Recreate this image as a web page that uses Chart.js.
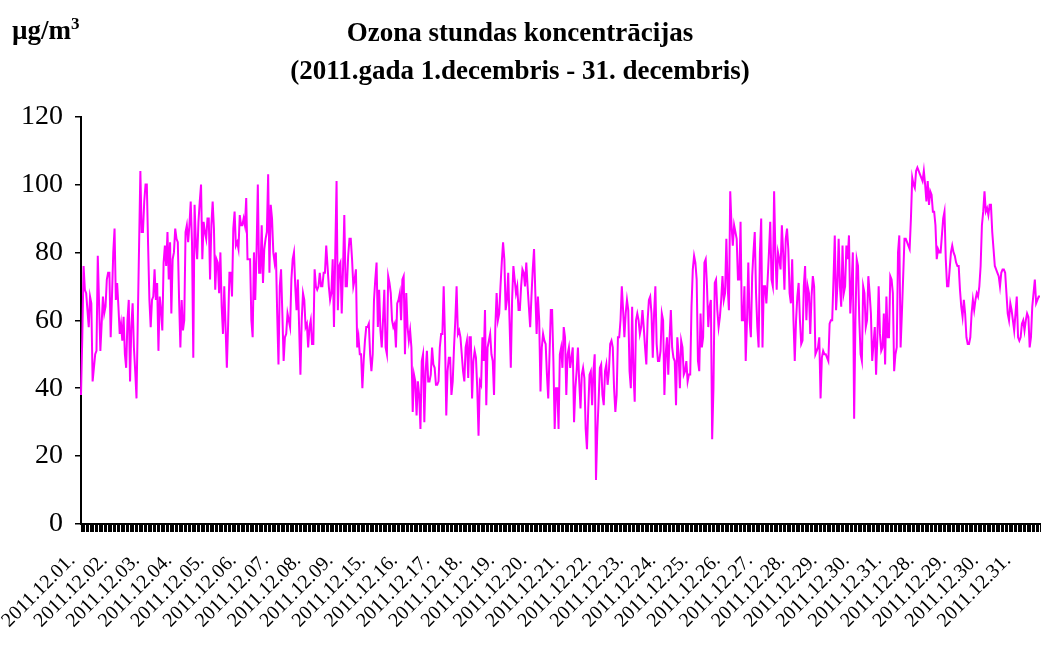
<!DOCTYPE html>
<html>
<head>
<meta charset="utf-8">
<script src="https://cdn.jsdelivr.net/npm/chart.js@4"></script>
<style>
  body { margin: 0; background: #fff; }
  #wrap { position: relative; width: 1042px; height: 655px; }
  #unit {
    position: absolute; left: 12px; top: 14px;
    font: bold 27px 'Times New Roman', 'Liberation Serif', serif; color: #000;
  }
  #unit sup { font-size: 17px; }
</style>
</head>
<body>
<div id="wrap">
  <canvas id="chart"></canvas>
  <div id="unit">µg/m<sup>3</sup></div>
</div>
<script>
// tick labels as printed under the axis (one every 25 hours)
const dayLabels = [
  '2011.12.01.', '2011.12.02.', '2011.12.03.', '2011.12.04.', '2011.12.05.',
  '2011.12.06.', '2011.12.07.', '2011.12.08.', '2011.12.09.', '2011.12.15.',
  '2011.12.16.', '2011.12.17.', '2011.12.18.', '2011.12.19.', '2011.12.20.',
  '2011.12.21.', '2011.12.22.', '2011.12.23.', '2011.12.24.', '2011.12.25.',
  '2011.12.26.', '2011.12.27.', '2011.12.28.', '2011.12.29.', '2011.12.30.',
  '2011.12.31.', '2011.12.28.', '2011.12.29.', '2011.12.30.', '2011.12.31.'
];
const labelEvery = 25;

// hourly ozone, µg/m3 (24 values per row)
const ozone = [
  38,55,76,69,68,63,58,67,65,42,46,50,51,79,65,51,59,67,62,64,72,74,74,55,
  67,80,87,66,71,64,56,59,54,61,50,46,60,66,42,58,65,52,45,37,60,82,104,86,
  86,95,100,100,82,66,58,66,67,75,66,71,51,67,63,57,77,82,76,86,72,83,62,78,
  80,87,84,83,66,52,66,57,60,86,88,83,88,95,83,49,94,83,78,89,95,100,78,89,
  86,84,90,90,72,88,95,87,69,78,77,68,80,64,56,70,58,46,59,74,74,67,87,92,
  82,83,81,91,88,88,90,88,96,78,78,78,60,55,80,66,80,100,74,74,88,71,81,84,
  86,103,74,94,90,80,77,80,62,47,70,75,62,48,55,56,62,60,58,72,78,80,70,63,
  72,58,44,60,68,66,58,59,52,58,60,53,53,75,70,69,70,74,70,70,74,74,82,76,
  70,66,68,78,58,80,101,63,76,77,62,75,91,70,70,79,84,84,78,70,72,75,52,55,
  50,50,40,48,54,58,58,59,50,45,50,66,72,77,58,69,57,52,60,69,52,50,73,71,
  68,60,58,59,52,65,66,68,60,72,73,50,68,58,54,57,52,33,44,42,32,42,38,28,
  48,50,30,45,51,42,42,44,52,47,46,41,41,42,52,56,56,70,55,32,45,49,49,38,
  42,52,60,70,56,57,55,50,45,42,52,54,43,55,55,37,48,51,49,40,26,42,41,55,
  48,63,35,52,54,56,50,48,38,58,68,60,62,70,77,83,78,63,66,74,60,46,66,76,
  72,68,70,63,63,70,75,74,70,77,70,64,58,67,75,81,68,56,67,60,39,52,56,54,
  53,44,37,50,63,63,48,28,40,40,28,50,52,46,58,55,38,50,52,46,49,52,30,40,
  45,52,42,34,44,46,43,28,22,34,44,45,35,45,50,13,27,36,46,47,38,35,45,47,
  41,45,53,54,52,40,33,38,55,55,60,70,63,55,62,66,63,45,40,64,45,36,60,62,
  60,56,58,63,58,52,47,60,66,67,62,49,62,70,53,48,48,51,62,60,38,50,55,44,
  55,63,52,49,48,35,55,50,40,54,52,44,45,48,42,44,44,64,75,79,77,72,48,45,
  62,52,55,77,78,70,58,64,66,25,40,71,72,63,58,61,66,73,66,68,84,70,63,98,
  88,82,88,86,84,72,72,89,60,60,70,48,60,77,60,55,73,80,86,68,58,52,80,90,
  52,70,70,65,72,80,89,72,70,98,80,69,80,78,75,88,80,69,84,87,81,68,65,78,
  60,48,60,67,71,60,53,54,70,76,60,70,68,56,67,73,70,50,51,52,55,37,49,51,
  50,50,49,48,59,60,60,72,85,63,70,84,70,64,82,68,70,82,78,85,62,70,80,31,
  60,78,76,60,50,48,70,68,58,60,73,68,62,48,53,58,44,55,70,56,51,52,62,47,
  67,55,55,73,72,68,45,50,52,80,85,52,62,73,84,84,83,82,81,90,102,100,99,104,
  105,104,103,102,101,104,100,95,101,94,98,97,92,92,88,78,81,80,80,85,90,92,78,70,
  70,75,80,82,80,79,77,76,76,69,64,61,66,62,55,53,53,55,62,66,63,66,68,67,
  70,76,88,92,98,92,93,91,94,94,86,81,76,75,74,73,70,74,75,75,74,68,62,60,
  65,63,60,57,62,67,55,54,55,59,60,57,60,62,61,52,55,64,68,72,65,66,67,67
];

const yTicks = { min: 0, max: 120, step: 20 };
const titleLines = ['Ozona stundas koncentrācijas', '(2011.gada 1.decembris - 31. decembris)'];

// one category per hour, text only where a day label is printed
const labels = ozone.map((v, i) => (i % labelEvery === 0 ? (dayLabels[i / labelEvery] || '') : ''));

const serif = "'Times New Roman', 'Liberation Serif', serif";

new Chart(document.getElementById('chart'), {
  type: 'line',
  data: {
    labels: labels,
    datasets: [{
      data: ozone,
      borderColor: '#ff00ff',
      borderWidth: 2,
      pointRadius: 0,
      tension: 0,
      fill: false
    }]
  },
  options: {
    responsive: true,
    maintainAspectRatio: false,
    animation: false,
    layout: { padding: { right: 2 } },
    plugins: {
      legend: { display: false },
      tooltip: { enabled: false },
      title: {
        display: true,
        text: titleLines,
        color: '#000',
        font: { family: serif, size: 27, weight: 'bold', lineHeight: 1.4 },
        padding: { top: 15, bottom: 26 }
      }
    },
    scales: {
      x: {
        type: 'category',
        afterFit: (scale) => {
          scale.height = 131;
          // labels hang to the left only; no extra room needed on the sides
          scale.paddingLeft = 0;
          scale.paddingRight = 0;
        },
        border: { display: true, color: '#000', width: 2 },
        grid: { drawOnChartArea: false, drawTicks: true, tickLength: 8, color: '#000', lineWidth: 1 },
        ticks: {
          autoSkip: false,
          maxRotation: 45,
          minRotation: 45,
          padding: 17,
          labelOffset: -9,
          color: '#000',
          font: { family: serif, size: 20 }
        }
      },
      y: {
        min: yTicks.min,
        max: yTicks.max,
        afterFit: (scale) => { scale.width = 81; },
        border: { display: true, color: '#000', width: 2 },
        grid: { drawOnChartArea: false, drawTicks: true, tickLength: 6, color: '#000', lineWidth: 1.5 },
        ticks: {
          stepSize: yTicks.step,
          padding: 12,
          color: '#000',
          font: { family: serif, size: 28 }
        }
      }
    }
  }
});
</script>
</body>
</html>
